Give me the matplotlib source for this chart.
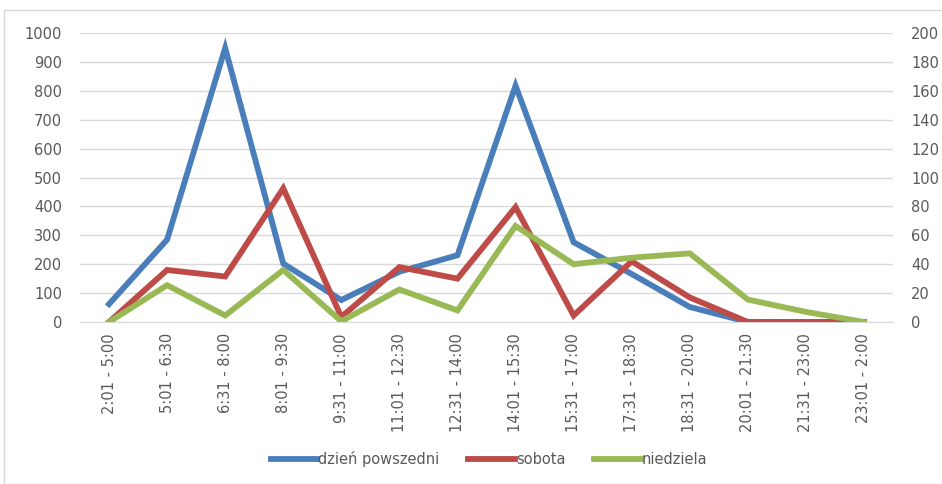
import matplotlib
matplotlib.use("Agg")
import matplotlib.pyplot as plt
from matplotlib.patches import Rectangle

plt.rcParams['font.family'] = ['DejaVu Sans']

# time slots on the x axis
przedzialy = ["2:01 - 5:00", "5:01 - 6:30", "6:31 - 8:00", "8:01 - 9:30",
              "9:31 - 11:00", "11:01 - 12:30", "12:31 - 14:00", "14:01 - 15:30",
              "15:31 - 17:00", "17:31 - 18:30", "18:31 - 20:00", "20:01 - 21:30",
              "21:31 - 23:00", "23:01 - 2:00"]

# weekday on left axis, weekend on right axis
dzien_powszedni = [62, 285, 948, 202, 76, 174, 231, 818, 276, 166, 52, 0, 0, 0]
sobota = [0, 36, 31.5, 92.5, 3.5, 38, 30, 79.5, 4.5, 42, 17, 0, 0, 0]
niedziela = [0, 25.5, 4.5, 36, 0.5, 22.5, 8, 66.5, 40, 44.5, 47.5, 15.5, 7, 0]

niebieski = "#4A7EBB"
czerwony = "#BE4B48"
zielony = "#98B954"
szary_tekst = "#595959"

fig = plt.figure(figsize=(9.42, 4.84), dpi=100)
ax = fig.add_axes([80/942, 1 - 322/484, 813/942, 289/484])
ax2 = ax.twinx()

x = range(len(przedzialy))
l1, = ax.plot(x, dzien_powszedni, color=niebieski, lw=4.2, solid_joinstyle="miter", label="dzień powszedni")
l2, = ax2.plot(x, sobota, color=czerwony, lw=4.2, solid_joinstyle="miter", label="sobota")
l3, = ax2.plot(x, niedziela, color=zielony, lw=4.2, solid_joinstyle="miter", label="niedziela")

ax.set_xlim(-0.5, len(przedzialy) - 0.5)
ax.set_ylim(0, 1000)
ax2.set_ylim(0, 200)
ax.set_yticks(range(0, 1001, 100))
ax2.set_yticks(range(0, 201, 20))

ax.grid(axis="y", color="#D9D9D9", lw=1)
ax.set_axisbelow(True)
for a in (ax, ax2):
    for s in a.spines.values():
        s.set_visible(False)
    a.tick_params(length=0, labelsize=10.5, colors=szary_tekst)
ax.spines["bottom"].set_visible(True)
ax.spines["bottom"].set_color("#D9D9D9")

ax.set_xticks(list(x))
ax.set_xticklabels(przedzialy, rotation=90, fontsize=10.5)
ax.tick_params(axis="x", pad=8)
ax.tick_params(axis="y", pad=13)
ax2.tick_params(axis="y", pad=13)

fig.legend(handles=[l1, l2, l3], loc="center", bbox_to_anchor=(489/942, 1 - 459/484),
           ncol=3, frameon=False, fontsize=10.5, handlelength=3.2, handletextpad=0.05,
           columnspacing=2.0, labelcolor=szary_tekst)

fig.patches.append(Rectangle((4/942, 0), 1, 1 - 10/484, transform=fig.transFigure,
                             fill=False, edgecolor="#D9D9D9", lw=1))

fig.savefig("out.png", dpi=100)
